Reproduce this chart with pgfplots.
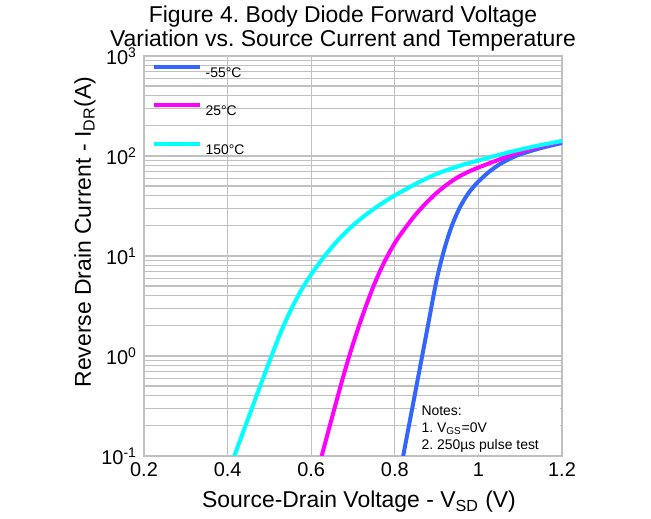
\documentclass[border=0pt]{standalone}
\usepackage{fontspec}
\setmainfont{Liberation Sans}
\usepackage{pgfplots}
\pgfplotsset{compat=1.18}
\definecolor{cblue}{RGB}{51,102,255}
\definecolor{cmag}{RGB}{255,0,255}
\definecolor{ccyan}{RGB}{0,255,255}
\definecolor{gridgray}{RGB}{192,192,192}
\frenchspacing

\begin{document}
\begin{tikzpicture}
\begin{axis}[
    width=209bp, height=200bp, scale only axis,
    xmin=0.2, xmax=1.2,
    ymode=log, ymin=0.1, ymax=1000,
    xtick={0.2,0.4,0.6,0.8,1.0,1.2},
    xticklabels={0.2,0.4,0.6,0.8,1,1.2},
    ytick={0.1,1,10,100,1000},
    yticklabels={10\textsuperscript{-1},10\textsuperscript{0},10\textsuperscript{1},10\textsuperscript{2},10\textsuperscript{3}},
    xmajorgrids, ymajorgrids, yminorgrids,
    major grid style={gridgray, line width=0.6bp},
    minor grid style={gridgray, line width=0.6bp},
    axis line style={gridgray, line width=1.2bp},
    major tick length=0pt, minor tick length=0pt,
    tick label style={font=\fontsize{10}{12}\selectfont},
    title={Figure 4. Body Diode Forward Voltage\\Variation vs. Source Current and Temperature},
    title style={align=center, font=\fontsize{11.5}{12}\selectfont, inner ysep=0pt,
        yshift=-3.8bp, xshift=-5bp},
    xlabel={Source-Drain Voltage - V\textsubscript{SD} (V)},
    ylabel={Reverse Drain Current - I\textsubscript{DR}(A)},
    label style={font=\fontsize{11.5}{13}\selectfont},
    xlabel style={xshift=3bp},
    ylabel style={at={(ticklabel cs:0.56)}},
    ylabel shift=-4bp,
    legend style={draw=none, fill=none, at={(0.003,0.9925)}, anchor=north west,
        font=\fontsize{7}{8}\selectfont, row sep=9bp},
    legend cell align=left,
    legend image code/.code={\draw[#1] (0bp,3.5bp) -- (17.5bp,3.5bp);
        \path (0bp,3.5bp) -- (23bp,3.5bp);},
    every axis plot/.append style={line width=2bp, smooth},
    clip=true,
]
% -55 C
\addplot[cblue] coordinates {
 (0.82,0.1) (0.84,0.275) (0.86,0.759) (0.88,2.089) (0.89,3.51)
 (0.90,5.754) (0.91,8.61) (0.92,12.30) (0.93,16.79) (0.94,21.88)
 (0.95,27.35) (0.96,33.11) (0.97,38.90) (0.98,44.67) (0.99,50.12)
 (1.00,55.59) (1.025,69.18) (1.05,82.22) (1.075,93.76) (1.10,104.0)
 (1.15,120.2) (1.20,134.9)
};
% 25 C
\addplot[cmag] coordinates {
 (0.625,0.1) (0.65,0.244) (0.675,0.589) (0.70,1.318) (0.725,2.69)
 (0.75,5.105) (0.775,8.71) (0.80,13.49) (0.825,19.05) (0.85,26.0)
 (0.875,33.9) (0.90,42.7) (0.925,51.9) (0.95,61.0) (0.975,69.2)
 (1.00,76.7) (1.05,92.3) (1.10,109.6) (1.15,125.2) (1.20,140.4)
};
% 150 C
\addplot[ccyan] coordinates {
 (0.416,0.1) (0.45,0.242) (0.475,0.465) (0.50,0.879) (0.525,1.637)
 (0.55,2.812) (0.575,4.457) (0.60,6.546) (0.625,9.141) (0.65,12.33)
 (0.675,16.07) (0.70,20.23) (0.725,24.72) (0.75,29.58) (0.775,34.8)
 (0.80,40.36) (0.825,46.2) (0.85,52.6) (0.875,59.3) (0.90,66.2)
 (0.925,72.4) (0.95,78.5) (0.975,84.5) (1.00,90.2) (1.025,96.4)
 (1.05,102.8) (1.10,115.9) (1.15,128.8) (1.20,141.3)
};
\legend{-55°C, 25°C, 150°C}
\fill[white] (rel axis cs:0.653,0.004) rectangle (rel axis cs:0.995,0.1475);
\node[anchor=north west, align=left, inner sep=0pt, font=\fontsize{7}{8.5}\selectfont]
  at (rel axis cs:0.663,0.127) {Notes:\\1. V\textsubscript{GS}=0V\\2. 250µs pulse test};
\end{axis}
\path ([shift={(-72bp,-30.5bp)}]current axis.south west)
  rectangle ([shift={(44.5bp,28bp)}]current axis.north east);
\end{tikzpicture}
\end{document}
